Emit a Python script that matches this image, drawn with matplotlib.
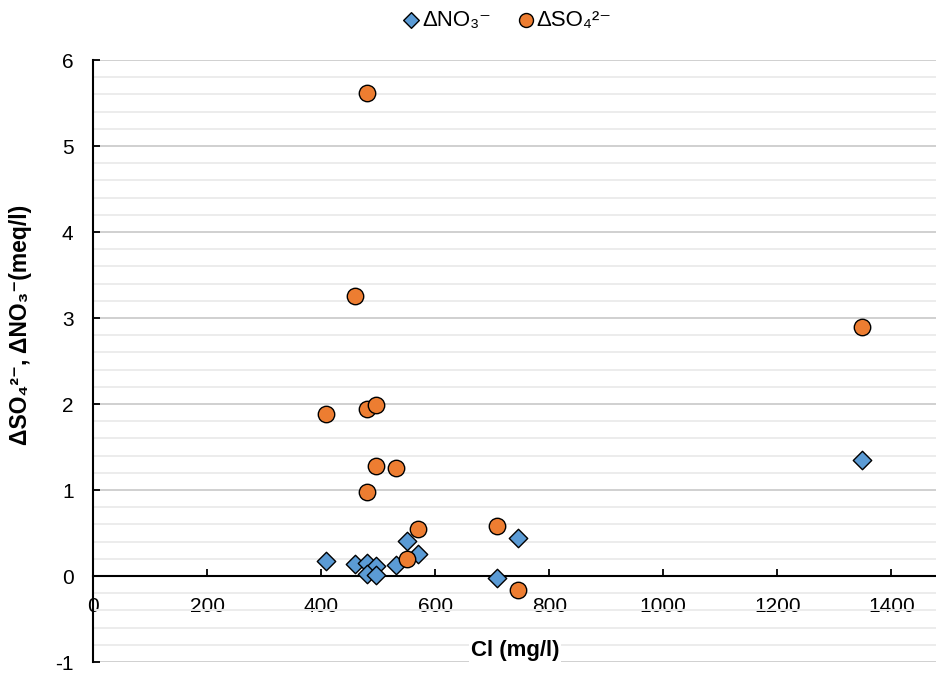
import matplotlib.pyplot as plt
from matplotlib.ticker import MultipleLocator

plt.rcParams.update({
    "font.family": ["Liberation Sans", "DejaVu Sans"],
    "font.size": 15,
    "axes.unicode_minus": False,
})

# data
cl_no3 = [408, 460, 480, 497, 480, 497, 532, 550, 569, 709, 746, 1348]
d_no3 = [0.17, 0.14, 0.15, 0.12, 0.02, 0.01, 0.13, 0.41, 0.26, -0.02, 0.44, 1.35]

cl_so4 = [480, 460, 408, 480, 497, 497, 532, 480, 569, 550, 709, 746, 1348]
d_so4 = [5.62, 3.26, 1.88, 1.94, 1.99, 1.28, 1.26, 0.98, 0.55, 0.20, 0.58, -0.16, 2.90]

fig = plt.figure(figsize=(9.37, 6.73), dpi=100)
ax = fig.add_axes([0.0993, 0.0163, 0.9007, 0.8945])

ax.scatter(cl_no3, d_no3, marker="D", s=88, color="#5B9BD5", edgecolor="black",
           linewidth=1.0, zorder=3, label="ΔNO₃⁻")
ax.scatter(cl_so4, d_so4, marker="o", s=140, color="#ED7D31", edgecolor="black",
           linewidth=1.0, zorder=4, label="ΔSO₄²⁻")

ax.set_xlim(0, 1480)
ax.set_ylim(-1, 6)
ax.xaxis.set_major_locator(MultipleLocator(200))
ax.yaxis.set_major_locator(MultipleLocator(1))
ax.yaxis.set_minor_locator(MultipleLocator(0.2))

# gridlines
ax.grid(axis="y", which="major", color="#d0d0d0", linewidth=1.4, zorder=0)
ax.grid(axis="y", which="minor", color="#ececec", linewidth=1.4, zorder=0)
ax.set_axisbelow(True)

# spines: y axis at x=0, x axis at y=0
for s in ("top", "right"):
    ax.spines[s].set_visible(False)
ax.spines["bottom"].set_position(("data", 0))
ax.spines["left"].set_linewidth(1.5)
ax.spines["bottom"].set_linewidth(1.5)

ax.tick_params(axis="x", direction="in", length=5, width=1.3, pad=15, labelsize=15)
ax.tick_params(axis="y", direction="in", length=5, width=1.3, pad=14, labelsize=15)
ax.tick_params(axis="y", which="minor", length=0)

# x label sits inside the plot area, over the gridlines
ax.text(0.5, 0.037, "Cl (mg/l)", transform=ax.transAxes, ha="center", va="top",
        fontweight="bold", fontsize=16, zorder=6,
        bbox=dict(facecolor="white", edgecolor="none", pad=1))
ax.set_ylabel("ΔSO₄²⁻, ΔNO₃⁻(meq/l)", fontweight="bold", fontsize=16.5)
ax.yaxis.set_label_coords(-0.072, 0.56)

fig.legend(loc="upper center", bbox_to_anchor=(0.54, 1.015), ncol=2, frameon=False,
           fontsize=16, handlelength=1.0, handletextpad=0.0, columnspacing=1.05,
           markerscale=0.85)

fig.savefig("out.png", dpi=100, facecolor="white")
